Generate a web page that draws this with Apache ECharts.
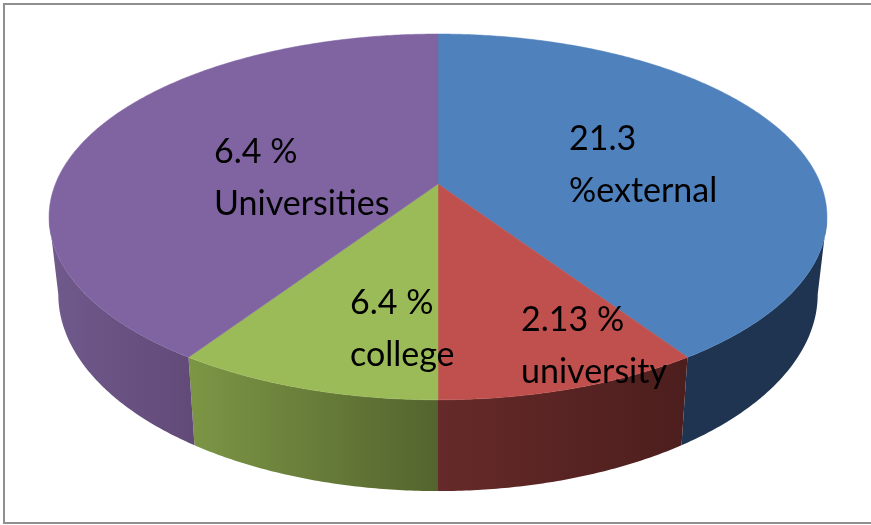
<!DOCTYPE html>
<html>
<head>
<meta charset="utf-8">
<style>html,body{margin:0;padding:0;background:#fff}#c{width:871px;height:525px}</style>
<script src="https://cdn.jsdelivr.net/npm/echarts@6/dist/echarts.min.js"></script>
</head>
<body>
<div id="c"></div>
<script>
// Data
const categories = ['external', 'university', 'college', 'Universities'];
const shares = [21.3, 4.9, 4.9, 21.3];
const labelFirstLines = ['21.3', '2.13 %', '6.4 %', '6.4 %'];
const labelSecondLines = ['%external', 'university', 'college', 'Universities'];

// Styling and geometry
const topColors = ['#4f81bd', '#c0504d', '#9bbb59', '#8064a2'];
const sideStops = [['#1e3450', '#1e3450'], ['#652a29', '#4c1e1d'], ['#7c9645', '#54642e'], ['#705a8c', '#624a78']];
const labelAnchors = [[569, 139], [521, 320], [350, 303], [214, 152]];
const P = {cx: 438, a: -143.87, b: 184, c: 0.18, K: 382.6, depth: 74.8, Kb: 373.5};
const visibleFrom = 100.4, visibleTo = 259.6;

const total = shares.reduce((s, v) => s + v, 0);
let run = 0;
const sliceData = shares.map((v, i) => {
  const s = run; run += v;
  return {name: categories[i], value: [s / total * 360, run / total * 360, i]};
});

function topPt(deg) {
  const t = deg * Math.PI / 180, v = Math.cos(t), w = 1 + P.c * v;
  return [P.cx + P.K * Math.sin(t) / w, (P.a * v + P.b) / w];
}
function botPt(deg) {
  const t = deg * Math.PI / 180, v = Math.cos(t), w = 1 + P.c * v;
  return [P.cx + P.Kb * Math.sin(t) / w, (P.a * v + P.b + P.depth) / w];
}
function arc(fn, s, e) {
  const n = Math.max(2, Math.ceil((e - s) * 2)), pts = [];
  for (let k = 0; k <= n; k++) pts.push(fn(s + (e - s) * k / n));
  return pts;
}

function renderTop(params, api) {
  const s = api.value(0), e = api.value(1), i = api.value(2);
  const pts = [[P.cx, P.b]].concat(arc(topPt, s, e));
  return {type: 'polygon', shape: {points: pts},
    style: {fill: topColors[i], stroke: topColors[i], lineWidth: 0.5}};
}
function renderSide(params, api) {
  const s = Math.max(api.value(0), visibleFrom), e = Math.min(api.value(1), visibleTo), i = api.value(2);
  const pts = arc(topPt, s, e).concat(arc(botPt, s, e).reverse());
  const xs = pts.map(p => p[0]);
  const x0 = Math.min.apply(null, xs), x1 = Math.max.apply(null, xs);
  const stops = [{offset: 0, color: sideStops[i][0]}, {offset: 1, color: sideStops[i][1]}];
  return {type: 'polygon', shape: {points: pts},
    style: {fill: {type: 'linear', x: x0, y: 0, x2: x1, y2: 0, global: true, colorStops: stops}}};
}
function renderLabel(params, api) {
  const i = api.value(2), at = labelAnchors[i];
  const font = '34px Lato, sans-serif';
  return {type: 'group', children: [
    {type: 'text', style: {text: labelFirstLines[i], x: at[0], y: at[1], font: font, fill: '#000', verticalAlign: 'middle'}},
    {type: 'text', style: {text: labelSecondLines[i], x: at[0], y: at[1] + 52, font: font, fill: '#000', verticalAlign: 'middle'}}
  ]};
}

const chart = echarts.init(document.getElementById('c'), null, {renderer: 'canvas'});
chart.setOption({
  animation: false,
  backgroundColor: '#ffffff',
  graphic: [{type: 'polyline', shape: {points: [[880, 4], [4, 4], [4, 523], [880, 523]]},
    style: {stroke: '#8f8f8f', lineWidth: 2, fill: null}, silent: true}],
  series: [
    {type: 'custom', coordinateSystem: 'none', z: 2, data: sliceData, renderItem: renderSide, silent: true},
    {type: 'custom', coordinateSystem: 'none', z: 3, data: sliceData, renderItem: renderTop, silent: true},
    {type: 'custom', coordinateSystem: 'none', z: 4, data: sliceData, renderItem: renderLabel, silent: true}
  ]
});
</script>
</body>
</html>
